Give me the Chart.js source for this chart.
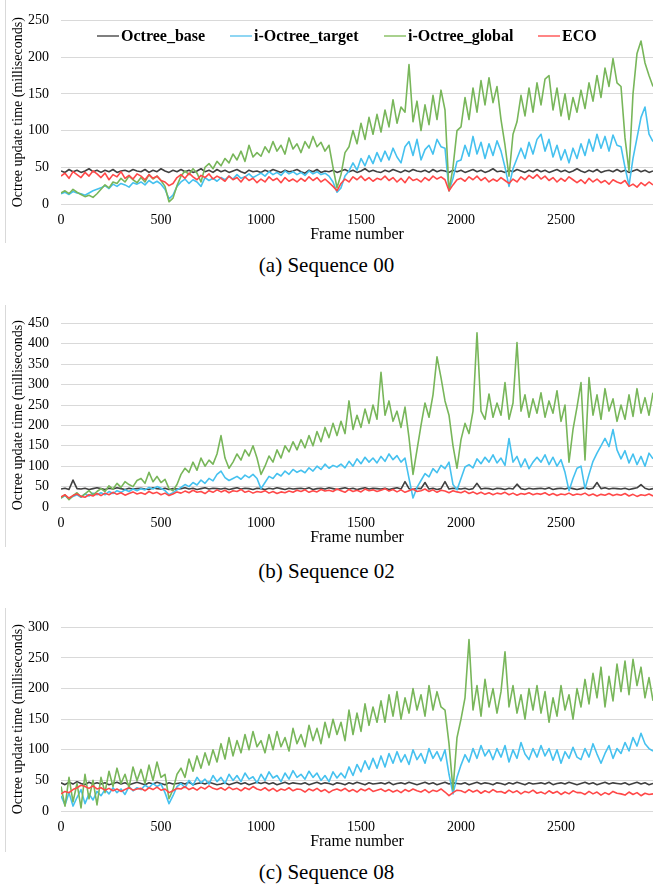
<!DOCTYPE html>
<html>
<head>
<meta charset="utf-8">
<script src="https://cdn.jsdelivr.net/npm/chart.js@4.4.1/dist/chart.umd.min.js"></script>
<style>
  html,body{margin:0;padding:0;background:#fff;}
  body{width:653px;height:886px;position:relative;overflow:hidden;font-family:"Liberation Serif","Times New Roman",serif;color:#000;}
  .panel{position:absolute;left:6px;width:647px;height:245px;}
  .border{position:absolute;left:5px;width:1px;background:#d9d9d9;}
  .cap{position:absolute;left:0;width:653px;text-align:center;font-size:21px;line-height:24px;font-family:"Liberation Serif",serif;}
  .leg{position:absolute;top:27px;height:18px;display:flex;align-items:center;font-weight:bold;font-size:16px;white-space:nowrap;font-family:"Liberation Serif",serif;}
  .leg i{display:inline-block;width:22px;height:2.5px;margin-right:2px;}
</style>
</head>
<body>
<div class="border" style="top:0;height:243px"></div>
<div class="border" style="top:305px;height:242px"></div>
<div class="border" style="top:608px;height:244px"></div>

<div class="panel" style="top:0"><canvas id="c0" width="647" height="245"></canvas></div>
<div class="panel" style="top:303px"><canvas id="c1" width="647" height="245"></canvas></div>
<div class="panel" style="top:607px"><canvas id="c2" width="647" height="245"></canvas></div>

<div class="leg" style="left:97px"><i style="background:#7f7f7f"></i>Octree_base</div>
<div class="leg" style="left:230px"><i style="background:#8fd6f3"></i>i-Octree_target</div>
<div class="leg" style="left:384px"><i style="background:#a9d18e"></i>i-Octree_global</div>
<div class="leg" style="left:538px"><i style="background:#ff8585"></i>ECO</div>

<div class="cap" style="top:253px">(a) Sequence 00</div>
<div class="cap" style="top:559px">(b) Sequence 02</div>
<div class="cap" style="top:860px">(c) Sequence 08</div>

<script>
// ---- data (frame step 20) ----
const frames = [0,20,40,60,80,100,120,140,160,180,200,220,240,260,280,300,320,340,360,380,
400,420,440,460,480,500,520,540,560,580,600,620,640,660,680,700,720,740,760,780,
800,820,840,860,880,900,920,940,960,980,1000,1020,1040,1060,1080,1100,1120,1140,1160,1180,
1200,1220,1240,1260,1280,1300,1320,1340,1360,1380,1400,1420,1440,1460,1480,1500,1520,1540,1560,1580,
1600,1620,1640,1660,1680,1700,1720,1740,1760,1780,1800,1820,1840,1860,1880,1900,1920,1940,1960,1980,
2000,2020,2040,2060,2080,2100,2120,2140,2160,2180,2200,2220,2240,2260,2280,2300,2320,2340,2360,2380,
2400,2420,2440,2460,2480,2500,2520,2540,2560,2580,2600,2620,2640,2660,2680,2700,2720,2740,2760,2780,
2800,2820,2840,2860,2880,2900,2920,2940,2960];

const seriesNames = ["Octree_base","i-Octree_target","i-Octree_global","ECO"];
const xTicks = [0,500,1000,1500,2000,2500];

// Sequence 00
const base00 = [45,43,47,44,46,43,45,48,44,46, 43,46,44,47,43,45,46,44,47,45, 44,47,43,46,44,48,45,43,46,44,
47,44,46,43,45,48,44,46,43,47, 44,46,43,45,47,44,42,46,44,45, 43,46,44,47,45,43,46,44,45,47,
44,42,46,44,47,43,45,44,46,43, 45,47,44,46,43,45,48,44,46,44, 43,46,44,47,45,43,46,44,47,45,
44,46,43,47,44,46,45,43,46,44, 46,43,45,47,44,46,43,45,48,44, 45,43,46,44,47,45,43,46,44,47,
44,46,43,45,47,44,46,43,45,48, 45,43,46,44,47,43,45,46,44,47, 44,46,43,45,47,44,46,43,45];
const target00 = [14,16,13,17,15,14,12,15,18,20, 22,25,21,27,24,28,26,23,29,27, 30,26,32,28,31,27,20,7,12,24,
30,34,28,33,30,24,36,32,35,31, 36,33,38,34,40,35,37,41,36,39, 42,38,44,40,43,39,45,41,44,40,
43,39,45,41,44,40,42,38,30,16, 22,38,45,56,46,62,52,66,55,70, 58,72,60,76,64,56,78,85,66,88,
60,74,80,68,88,78,76,18,35,58, 60,80,65,92,68,84,62,82,66,86, 72,50,24,48,62,76,62,84,68,88,
95,72,88,64,80,60,74,56,76,62, 82,66,88,72,95,76,92,72,94,80, 78,50,25,62,90,118,132,95,85];
const global00 = [15,18,14,20,16,13,10,12,9,14, 20,26,22,30,28,35,30,38,33,29, 36,30,40,34,38,32,24,3,8,25,
38,45,40,48,42,30,50,55,48,58, 52,62,56,68,60,72,58,80,64,70, 65,78,70,85,72,80,68,90,75,82,
70,85,76,92,78,84,72,80,50,22, 40,70,78,100,82,110,88,118,95,122, 98,128,105,142,110,132,125,190,112,140,
100,135,108,148,115,155,128,18,50,100, 105,145,115,158,125,168,135,172,138,160, 115,80,38,95,112,148,120,158,125,165,
135,170,175,128,158,120,150,115,145,125, 155,130,165,140,175,145,185,160,198,165, 160,90,45,150,205,222,192,175,160];
const eco00 = [38,42,35,44,40,36,43,38,45,41, 36,42,33,40,37,44,35,39,34,41, 38,33,40,35,38,32,30,25,28,36,
40,35,42,37,33,39,36,41,34,38, 35,31,38,33,36,30,37,32,35,29, 34,30,37,32,35,29,36,31,34,30,
35,31,37,32,36,30,34,29,24,18, 28,34,30,37,33,38,32,36,31,35, 33,38,32,36,30,35,29,37,32,34,
30,36,32,38,34,37,33,18,26,33, 35,31,37,33,38,32,36,30,34,31, 36,32,28,34,30,37,33,39,35,40,
34,38,32,36,30,35,31,37,33,29, 33,28,35,30,34,29,32,27,33,30, 28,32,24,27,23,29,25,30,26];

// Sequence 02
const base02 = [44,46,43,66,45,44,46,43,45,47, 45,43,46,44,47,45,43,46,44,45, 46,44,43,47,45,44,46,43,45,44,
45,47,44,46,43,45,47,44,46,45, 44,46,43,45,47,44,46,45,43,46, 45,43,46,44,47,45,43,46,44,45,
46,44,47,43,45,46,44,47,45,43, 45,47,44,46,43,45,47,44,46,45, 44,46,43,45,47,44,62,45,43,46,
45,60,44,46,43,45,62,44,46,45, 44,46,43,45,58,44,46,45,43,46, 45,43,46,44,56,45,43,46,44,45,
46,44,47,43,45,46,44,47,45,43, 45,47,44,46,60,45,47,44,46,45, 44,46,43,45,47,55,46,43,45];
const target02 = [22,28,20,26,30,24,32,27,34,30, 35,30,38,33,40,36,42,38,44,40, 45,42,48,44,50,46,40,30,35,42,
48,55,50,60,54,66,58,70,64,80, 88,72,65,70,75,68,78,72,80,70, 45,60,75,70,82,76,88,80,92,85,
90,84,96,88,100,92,105,95,102,98, 105,96,112,100,118,106,122,110,120,108, 124,112,130,116,126,110,120,70,22,48,
65,82,74,94,84,102,94,110,55,42, 70,98,104,96,118,106,122,110,128,108, 120,102,168,110,124,98,118,94,110,122,
110,128,104,122,100,116,85,40,70,95, 100,45,80,112,132,150,168,148,190,140, 118,138,108,130,104,124,100,132,118];
const global02 = [22,30,18,28,35,25,32,40,30,38, 45,38,52,44,58,48,62,55,50,65, 70,58,85,62,75,60,68,45,40,55,
80,95,85,110,90,120,100,115,105,130, 175,120,95,110,130,115,140,125,150,120, 80,100,125,110,140,120,150,135,160,140,
165,145,175,150,185,160,195,170,205,175, 210,180,260,190,225,195,240,205,250,215, 330,225,260,210,235,195,245,170,80,140,
200,255,220,275,368,317,260,225,150,95, 165,205,180,235,427,235,215,277,220,255, 225,305,215,255,403,235,275,220,265,230,
280,220,260,230,285,210,250,110,190,245, 305,115,317,225,275,215,290,235,265,210, 250,215,275,222,290,230,268,225,280];
const eco02 = [25,30,22,28,32,26,24,30,27,33, 28,34,30,36,31,35,29,33,37,32, 35,31,38,33,36,30,34,28,32,37,
34,39,35,41,36,38,33,40,36,42, 37,41,35,40,38,43,36,39,34,38, 36,40,34,38,33,37,35,39,36,41,
38,42,36,40,37,43,39,41,38,44, 40,36,43,38,41,37,44,40,42,38, 41,45,39,43,37,42,36,40,44,38,
40,44,38,42,36,41,39,35,40,37, 35,39,33,37,32,36,31,35,30,34, 32,36,30,34,29,33,31,35,30,33,
31,35,29,33,28,32,30,34,29,32, 30,34,28,32,27,31,29,33,28,31, 29,33,27,31,26,30,28,32,27];

// Sequence 08
const base08 = [46,43,47,44,48,45,43,47,44,46, 44,46,43,45,47,44,46,43,45,47, 45,43,46,44,47,45,43,46,44,45,
46,44,47,43,45,46,44,47,45,43, 44,46,43,45,47,44,46,43,45,47, 45,47,44,46,43,45,47,44,46,45,
44,46,43,45,47,44,46,45,43,46, 45,43,46,44,47,45,43,46,44,45, 46,44,47,43,45,46,44,47,45,43,
45,47,44,46,43,45,47,44,46,45, 44,46,43,45,47,44,46,45,43,46, 45,43,46,44,47,45,43,46,44,45,
46,44,47,43,45,46,44,47,45,43, 45,47,44,46,43,45,47,44,46,45, 44,46,43,45,47,44,46,43,45];
const target08 = [25,10,30,8,22,35,12,28,18,32, 25,35,28,38,30,36,27,40,33,38, 35,42,38,45,40,44,30,12,25,40,
45,38,50,42,55,46,52,44,58,48, 55,45,60,50,58,48,62,52,56,46, 60,50,64,54,58,48,62,52,66,55,
60,52,65,55,62,50,58,48,64,54, 62,54,72,58,76,64,82,68,86,70, 90,72,94,78,97,80,92,76,100,84,
94,78,102,86,97,82,100,60,28,55, 75,92,80,102,86,107,90,100,84,102, 88,107,80,100,86,112,93,84,102,88,
107,90,102,83,100,78,97,86,104,88, 84,102,88,110,93,78,94,107,86,102, 94,112,98,120,106,127,110,102,98];
const global08 = [40,8,55,15,45,5,60,20,50,10, 55,30,65,40,70,45,60,38,72,50, 68,45,75,50,80,55,60,20,35,60,
70,55,85,65,90,70,95,75,100,80, 110,85,120,90,115,95,125,100,130,105, 115,95,125,100,130,105,120,98,135,110,
125,105,140,115,135,110,145,120,150,125, 145,115,165,125,160,130,175,140,170,145, 180,145,190,155,195,150,185,160,200,165,
190,155,205,165,195,170,165,110,35,120, 150,185,280,165,205,155,215,170,200,160, 195,260,170,205,160,190,150,200,165,205,
160,195,145,185,155,205,165,190,150,200, 170,215,175,225,185,235,170,220,180,240, 195,245,190,248,205,235,185,218,180];
const eco08 = [28,32,30,35,38,42,40,37,41,36, 38,34,37,33,36,32,35,38,34,36, 37,33,38,35,39,34,36,30,33,37,
36,40,35,38,34,39,36,41,37,35, 38,34,39,35,37,33,38,35,40,36, 34,38,33,37,32,36,34,38,33,36,
35,31,36,33,37,32,35,30,34,36, 33,37,32,35,31,36,33,37,32,34, 36,32,35,31,34,30,35,32,36,33,
31,35,30,34,32,36,31,25,30,34, 33,30,35,31,34,29,33,30,35,31, 32,29,34,30,33,28,32,30,34,29,
31,28,33,29,32,27,31,28,33,30, 30,27,32,28,31,26,30,27,32,29, 28,26,31,27,30,25,29,27,28];

const yMax = [250, 450, 300];
const panels = [[base00,target00,global00,eco00],[base02,target02,global02,eco02],[base08,target08,global08,eco08]];

// ---- styling ----
const colors = ["#404040","#45c1ef","#78b65a","#ff4848"];
const drawOrder = [3,2,1,0];
const FONT = "'Liberation Serif','Times New Roman',serif";

function makeChart(id, sets, ymax){
  return new Chart(document.getElementById(id), {
    type:'line',
    data:{
      datasets: sets.map((arr,k)=>({
        label: seriesNames[k],
        data: frames.map((f,i)=>({x:f,y:arr[i]})),
        borderColor: colors[k],
        borderWidth: 1.6,
        pointRadius: 0,
        tension: 0,
        borderJoinStyle: 'round',
        fill: false,
        order: drawOrder[k]
      }))
    },
    options:{
      responsive:false,
      animation:false,
      devicePixelRatio:1,
      layout:{padding:{top:14,left:0,right:0,bottom:2}},
      plugins:{legend:{display:false},tooltip:{enabled:false}},
      scales:{
        x:{
          type:'linear', min:0, max:2960,
          afterBuildTicks:(s)=>{ s.ticks = xTicks.map(v=>({value:v})); },
          grid:{display:false, drawTicks:false},
          border:{display:false},
          ticks:{padding:9, color:'#000', font:{family:FONT,size:14,lineHeight:1}, maxRotation:0, autoSkip:false,
                 callback:(v)=>String(v)},
          title:{display:true, text:'Frame number', color:'#000', font:{family:FONT,size:16,lineHeight:1}, padding:{top:-9,bottom:0}}
        },
        y:{
          min:0, max:ymax,
          afterFit:(s)=>{ s.width = 55; },
          grid:{color:'#d9d9d9', lineWidth:1, drawTicks:false},
          border:{display:false},
          ticks:{stepSize:50, padding:12, color:'#000', font:{family:FONT,size:14,lineHeight:1.2}, callback:(v)=>String(v)},
          title:{display:true, text:'Octree update time (milliseconds)', color:'#000', font:{family:FONT,size:14,lineHeight:1.2}, padding:{top:4,bottom:0}}
        }
      }
    }
  });
}
panels.forEach((sets,p)=>makeChart('c'+p, sets, yMax[p]));
</script>
</body>
</html>
